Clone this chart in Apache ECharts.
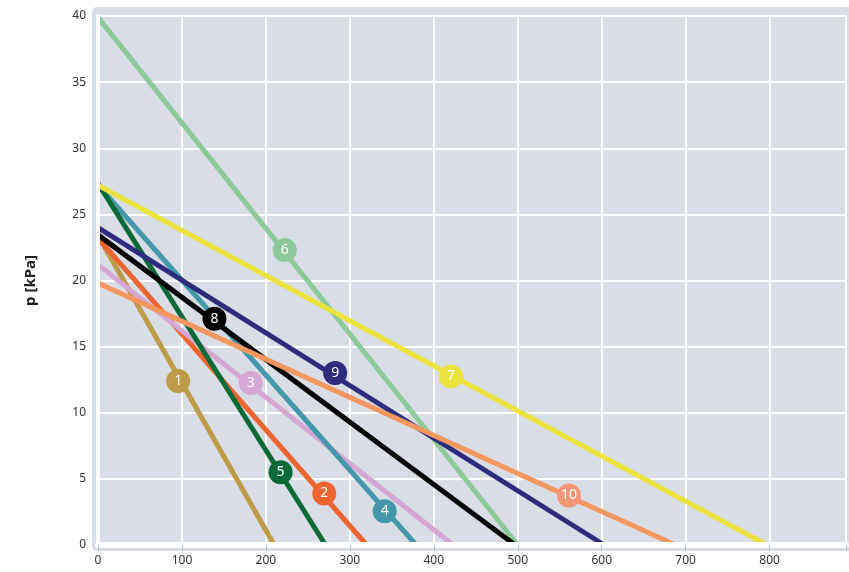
<!DOCTYPE html>
<html>
<head>
<meta charset="utf-8">
<script src="https://cdn.jsdelivr.net/npm/echarts@6/dist/echarts.min.js"></script>
<style>
  html, body { margin: 0; padding: 0; background: #fff; }
  #chart { width: 849px; height: 572px; }
</style>
</head>
<body>
<div id="chart"></div>
<script>
// line numbers, p intercept (kPa at x = 0) and x intercept (p = 0)
var lineNames = ['1', '2', '3', '4', '5', '6', '7', '8', '9', '10'];
var pStart = [23.4, 23.2, 21.2, 27.2, 27.35, 39.9, 27.2, 23.45, 24.0, 19.8];
var xEnd = [210, 320, 423, 379, 271, 500, 797, 497, 603, 688];
// numbered circle positions
var labelX = [95.5, 269.5, 182, 341.5, 217.5, 222.5, 420.5, 138.7, 282.5, 561];
var labelY = [12.4, 3.9, 12.25, 2.55, 5.5, 22.3, 12.75, 17.1, 13.0, 3.75];
var yTicks = [0, 5, 10, 15, 20, 25, 30, 35, 40];

var colors = ['#bd9b48', '#ec6530', '#d5a7d3', '#4598aa', '#0b6a38',
              '#8dc99a', '#ece43e', '#000000', '#2e2c7d', '#f4975f'];
var markColors = ['#bd9b48', '#ec6530', '#d5a7d3', '#4598aa', '#0b6a38',
                  '#8dc99a', '#ece43e', '#000000', '#2e2c7d', '#f39677'];

var myChart = echarts.init(document.getElementById('chart'));

var series = lineNames.map(function (name, i) {
    return {
        name: name,
        type: 'line',
        xAxisIndex: 0,
        yAxisIndex: 0,
        data: [[0, pStart[i]], [xEnd[i], 0]],
        symbol: 'none',
        silent: true,
        z: 2 + i * 0.01,
        lineStyle: { color: colors[i], width: 5, cap: 'butt' },
        markPoint: {
            symbol: 'circle',
            symbolSize: 24,
            silent: true,
            itemStyle: { color: markColors[i] },
            label: {
                show: true,
                formatter: name,
                color: '#fff',
                fontSize: 14,
                fontFamily: 'Noto Sans'
            },
            data: [{ coord: [labelX[i], labelY[i]] }]
        }
    };
});

var option = {
    animation: false,
    textStyle: { fontFamily: 'Noto Sans' },
    graphic: [{
        type: 'rect',
        z: -10,
        silent: true,
        shape: { x: 92, y: 7, width: 760, height: 544, r: [5, 0, 0, 5] },
        style: { fill: '#d9dde6' }
    }],
    grid: {
        left: 98,
        right: -3,
        top: 16,
        bottom: 27
    },
    xAxis: [{
        type: 'value',
        min: 0,
        max: 891,
        interval: 100,
        axisLine: { show: false },
        axisTick: { show: false },
        axisLabel: {
            margin: 10,
            color: '#333',
            fontSize: 12,
            formatter: function (v) { return v % 100 === 0 ? v : ''; }
        },
        splitLine: { lineStyle: { color: '#ffffff', width: 2 } }
    }, {
        type: 'value',
        position: 'bottom',
        offset: 0,
        min: 0,
        max: 891,
        interval: 100,
        z: 10,
        axisLine: { show: true, lineStyle: { color: '#ffffff', width: 6 } },
        axisTick: { show: true, length: 6, lineStyle: { color: '#b9bdc6', width: 1 } },
        axisLabel: { show: false },
        splitLine: { show: false }
    }],
    yAxis: [{
        type: 'value',
        min: yTicks[0],
        max: yTicks[yTicks.length - 1],
        interval: 5,
        name: 'p [kPa]',
        nameLocation: 'middle',
        nameGap: 60,
        nameTextStyle: { fontSize: 15, fontWeight: 'bold', color: '#222', fontFamily: 'Noto Sans' },
        axisLine: { show: false },
        axisTick: { show: false },
        axisLabel: { margin: 12, color: '#333', fontSize: 12 },
        splitLine: { lineStyle: { color: '#ffffff', width: 2 } }
    }, {
        type: 'value',
        position: 'left',
        offset: 0,
        min: 0,
        max: 40,
        interval: 5,
        z: 10,
        axisLine: { show: true, lineStyle: { color: '#ffffff', width: 4 } },
        axisTick: { show: false },
        axisLabel: { show: false },
        splitLine: { show: false }
    }],
    series: series
};

myChart.setOption(option);
</script>
</body>
</html>
